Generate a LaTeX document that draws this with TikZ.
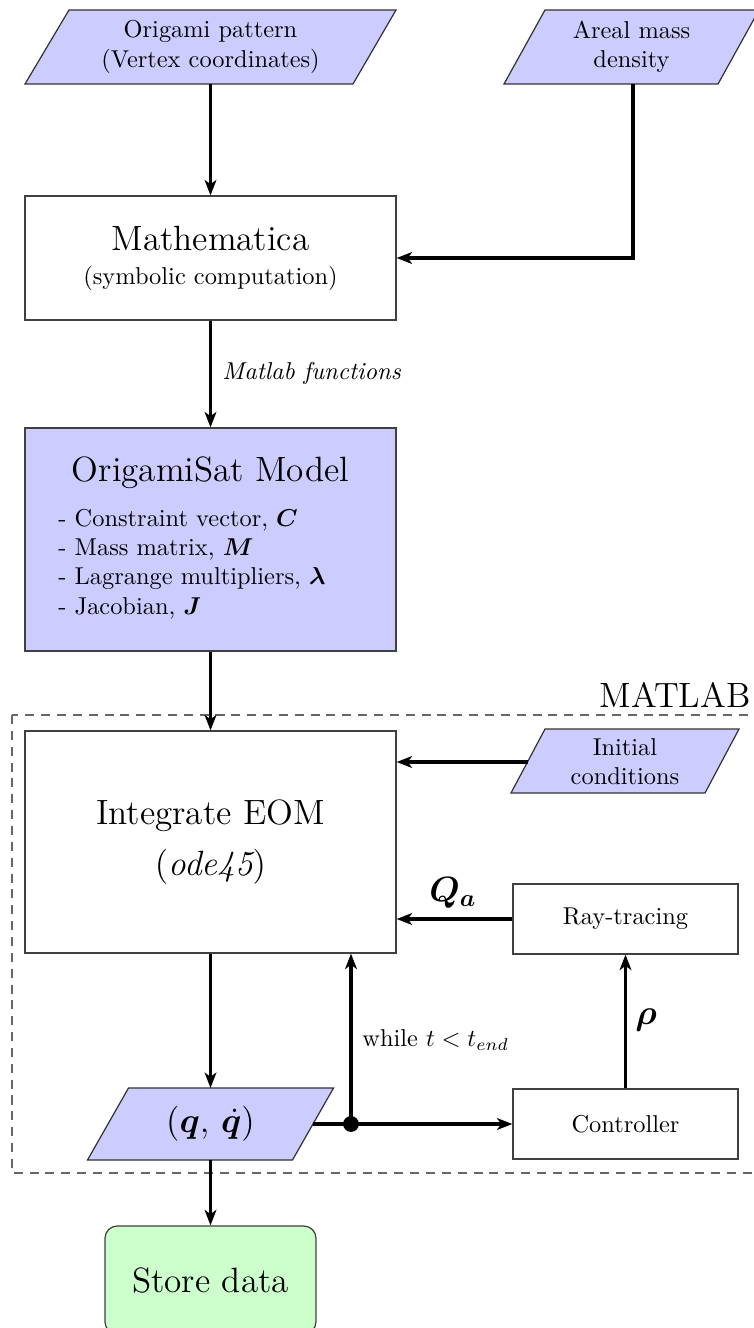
\documentclass[tikz,border=0pt]{standalone}
\usepackage{bm}
\usetikzlibrary{arrows.meta,calc}
\definecolor{pblue}{RGB}{204,204,255}
\definecolor{pgreen}{RGB}{204,255,204}
\begin{document}
\begin{tikzpicture}[x=0.41pt,y=-0.41pt,
  box/.style={draw=black!75,line width=0.5pt,rectangle,inner sep=0pt,align=center},
  para/.style={fill=pblue,draw=black!80,line width=0.5pt},
  arr/.style={line width=1.4pt,-{Stealth[length=6.3pt,width=4.8pt,inset=1.7pt]}},
  plain/.style={line width=1.4pt},
  txt/.style={inner sep=0pt,align=center}
]
\useasboundingbox (0,0) rectangle (753,1328);

% dashed MATLAB region
\draw[black!60,line width=0.6pt,dash pattern=on 3.7pt off 2.8pt] (12,715) rectangle (770,1173);
\node[txt,anchor=base east,font=\Large] (matlab) at (751,707) {MATLAB};

% parallelograms
\draw[para] (69,10) -- (396,10) -- (353,84) -- (25,84) -- cycle;
\node[txt] (orig) at (210.5,47) {Origami pattern\\(Vertex coordinates)};
\coordinate (orig-s) at (210.5,84);

\draw[para] (545,10) -- (759,10) -- (718,84) -- (504,84) -- cycle;
\node[txt] (areal) at (631.5,47) {Areal mass\\density};
\coordinate (areal-s) at (633,84);

\draw[para] (545,729) -- (739,729) -- (705,793) -- (511,793) -- cycle;
\node[txt] (init) at (625,762) {Initial\\conditions};
\coordinate (init-w) at (528,762);

\draw[para] (128.5,1088) -- (333.5,1088) -- (292.5,1160) -- (87.5,1160) -- cycle;
\node[txt,font=\Large] (q) at (210.5,1124) {$(\bm{q},\,\dot{\bm{q}})$};
\coordinate (q-n) at (210.5,1088);
\coordinate (q-s) at (210.5,1160);
\coordinate (q-e) at (313,1124);

% boxes
\node[box,minimum width=152.1pt,minimum height=50.8pt] (math) at (210.5,258)
  {{\Large Mathematica}\\[2pt](symbolic computation)};

\node[box,fill=pblue,minimum width=152.1pt,minimum height=91.4pt] (model) at (210.5,539.5) {};
\node[txt,font=\Large] (modeltitle) at (210.5,473) {OrigamiSat Model};
\node[txt,anchor=west,align=left] (modellist) at (58,564)
  {- Constraint vector, $\bm{C}$\\
   - Mass matrix, $\bm{M}$\\
   - Lagrange multipliers, $\bm{\lambda}$\\
   - Jacobian, $\bm{J}$};

\node[box,minimum width=152.1pt,minimum height=91.0pt,font=\Large] (eom) at (210.5,842)
  {Integrate EOM\\[3pt]$(\textit{ode45})$};

\node[box,minimum width=92.25pt,minimum height=28.7pt] (ray) at (625.5,919) {Ray-tracing};
\node[box,minimum width=92.25pt,minimum height=28.7pt] (ctrl) at (625.5,1124) {Controller};

\node[box,fill=pgreen,rounded corners=5pt,minimum width=86.5pt,minimum height=44.3pt,font=\Large] (store) at (210.5,1280) {Store data};

% connectors
\draw[arr] (orig-s) -- (math.north);
\draw[arr] (areal-s) |- (math.east);
\draw[arr] (math.south) -- (model.north);
\node[txt,anchor=west] (mfl) at (222,373) {\textit{Matlab functions}};
\draw[arr] (model.south) -- (eom.north);
\draw[arr] (init-w) -- (init-w -| eom.east);
\draw[arr] (ray.west) -- (ray.west -| eom.east);
\node[txt,font=\Large] (qa) at (453,893) {$\bm{Q_a}$};
\draw[arr] (ctrl.north) -- (ray.south);
\node[txt,font=\Large] (rho) at (646,1020) {$\bm{\rho}$};
\draw[arr] (eom.south) -- (q-n);
\node[circle,fill=black,inner sep=0pt,minimum size=6.5pt] (dot) at (351,1124) {};
\draw[plain] (q-e) -- (dot.center);
\draw[arr] (dot.center) -- (ctrl.west);
\draw[arr] (dot.center) -- (dot |- eom.south);
\node[txt,anchor=west] (while) at (362,1040) {while $t<t_{end}$};
\draw[arr] (q-s) -- (store.north);
\end{tikzpicture}
\end{document}
